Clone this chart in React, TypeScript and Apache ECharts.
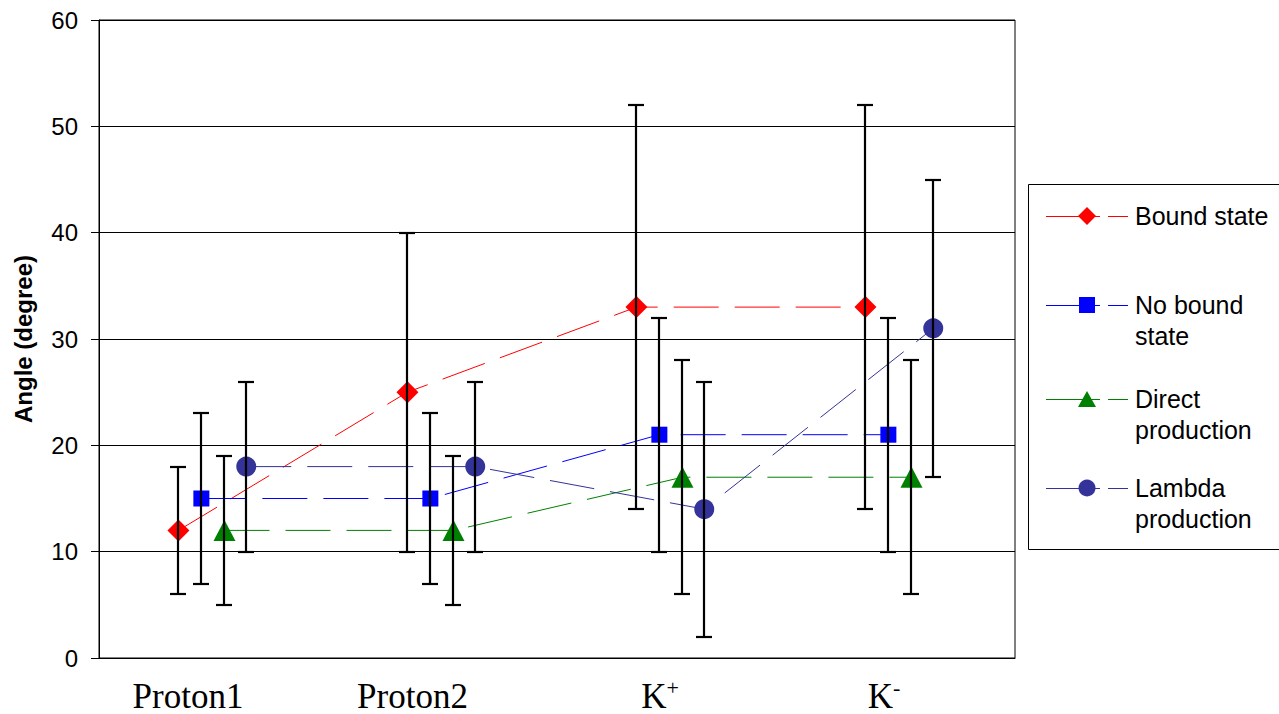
import React, { useEffect, useRef } from "react";
import * as echarts from "echarts";

const categories = ["Proton1", "Proton2", "K+", "K-"];
const seriesNames = ["Bound state", "No bound state", "Direct production", "Lambda production"];
const legendLabels = ["Bound state", "No bound\nstate", "Direct\nproduction", "Lambda\nproduction"];

const boundState = [12, 25, 33, 33];
const boundLow = [6, 10, 14, 14];
const boundHigh = [18, 40, 52, 52];

const noBoundState = [15, 15, 21, 21];
const noBoundLow = [7, 7, 10, 10];
const noBoundHigh = [23, 23, 32, 32];

const directProduction = [12, 12, 17, 17];
const directLow = [5, 5, 6, 6];
const directHigh = [19, 19, 28, 28];

const lambdaProduction = [18, 18, 14, 31];
const lambdaLow = [10, 10, 2, 17];
const lambdaHigh = [26, 26, 26, 45];

const yMin = 0;
const yMax = 60;
const yInterval = 10;

export default function App() {
  const ref = useRef<HTMLDivElement>(null);

  useEffect(() => {
    if (!ref.current) return;
    const chart = echarts.init(ref.current, null, { renderer: "svg" });

    const values = [boundState, noBoundState, directProduction, lambdaProduction];
    const lows = [boundLow, noBoundLow, directLow, lambdaLow];
    const highs = [boundHigh, noBoundHigh, directHigh, lambdaHigh];
    const colors = ["#FF0000", "#0000FF", "#008000", "#333399"];
    const symbols = ["diamond", "rect", "triangle", "circle"];
    const symbolSizes: any[] = [22, 16, [22, 21], 20];
    const offsets = [-0.153, -0.053, 0.048, 0.143];

    const lineSeries = values.map((vals, s) => ({
      type: "line",
      name: seriesNames[s],
      xAxisIndex: 1,
      data: vals.map((v, i) => [i + 0.5 + offsets[s], v]),
      symbol: symbols[s],
      symbolSize: symbolSizes[s],
      itemStyle: { color: colors[s] },
      lineStyle: { color: colors[s], width: 1, type: [45, 16] },
      z: 2,
    }));

    const errorSeries = values.map((vals, s) => ({
      type: "custom",
      xAxisIndex: 1,
      z: 5,
      encode: { x: 0, y: [1, 2] },
      data: vals.map((v, i) => [i + 0.5 + offsets[s], lows[s][i], highs[s][i]]),
      renderItem: (params: any, api: any) => {
        const x = api.value(0);
        const lo = api.coord([x, api.value(1)]);
        const hi = api.coord([x, api.value(2)]);
        const px = Math.round(lo[0]);
        const yl = Math.round(lo[1]);
        const yh = Math.round(hi[1]);
        const cw = 8;
        const st = { stroke: "#000", lineWidth: 2.2 };
        return {
          type: "group",
          children: [
            { type: "line", shape: { x1: px, y1: yl, x2: px, y2: yh }, style: st },
            { type: "line", shape: { x1: px - cw, y1: yl, x2: px + cw, y2: yl }, style: st },
            { type: "line", shape: { x1: px - cw, y1: yh, x2: px + cw, y2: yh }, style: st },
          ],
        };
      },
    }));

    // legend drawn with graphic elements
    const legX = 1087;
    const legY = [216, 305, 399, 488];
    const legendEls: any[] = [
      {
        type: "rect",
        shape: { x: 1028.5, y: 184.5, width: 262, height: 365 },
        style: { fill: "#fff", stroke: "#000", lineWidth: 1 },
        z: 10,
      },
    ];
    legY.forEach((y, s) => {
      const c = colors[s];
      legendEls.push({
        type: "line",
        shape: { x1: 1046, y1: y + 0.5, x2: 1100, y2: y + 0.5 },
        style: { stroke: c, lineWidth: 1 },
        z: 11,
      });
      legendEls.push({
        type: "line",
        shape: { x1: 1108, y1: y + 0.5, x2: 1128, y2: y + 0.5 },
        style: { stroke: c, lineWidth: 1 },
        z: 11,
      });
      let sym: any;
      if (s === 0) {
        sym = { type: "polygon", shape: { points: [[legX, y - 9], [legX + 9, y], [legX, y + 9], [legX - 9, y]] } };
      } else if (s === 1) {
        sym = { type: "rect", shape: { x: legX - 8, y: y - 8, width: 16, height: 16 } };
      } else if (s === 2) {
        sym = { type: "polygon", shape: { points: [[legX, y - 8], [legX + 9, y + 8], [legX - 9, y + 8]] } };
      } else {
        sym = { type: "circle", shape: { cx: legX, cy: y, r: 8.5 } };
      }
      sym.style = { fill: c };
      sym.z = 12;
      legendEls.push(sym);
      legendEls.push({
        type: "text",
        x: 1135,
        y: y - 15.5,
        z: 12,
        style: {
          text: legendLabels[s],
          fill: "#000",
          font: "25px Arial, 'Liberation Sans', sans-serif",
          lineHeight: 31,
          verticalAlign: "top",
          align: "left",
        },
      });
    });

    const labelGapStyles = ["g0", "g1", "g2", "g3"];

    chart.setOption({
      animation: false,
      backgroundColor: "#fff",
      grid: {
        left: 99,
        top: 20,
        right: 1279 - 1015,
        bottom: 714 - 658,
        show: true,
        borderColor: "#000",
        borderWidth: 1,
      },
      xAxis: [
        {
          type: "category",
          data: categories,
          boundaryGap: true,
          axisLine: { show: true, lineStyle: { color: "#000", width: 1 } },
          axisTick: { show: false },
          splitLine: { show: false },
          axisLabel: {
            margin: 18,
            interval: 0,
            formatter: (v: string, i: number) => {
              const g = labelGapStyles[i];
              if (v === "K+") return `{m|K}{sup|+}{${g}| }`;
              if (v === "K-") return `{m|K}{sup|-}{${g}| }`;
              return `{m|${v}}{${g}| }`;
            },
            rich: {
              m: { fontFamily: "'Times New Roman', 'Liberation Serif', serif", fontSize: 35, color: "#000", lineHeight: 40 },
              sup: { fontFamily: "'Times New Roman', 'Liberation Serif', serif", fontSize: 22, color: "#000", lineHeight: 40, verticalAlign: "top" },
              g0: { width: 51, fontSize: 10 },
              g1: { width: 60, fontSize: 10 },
              g2: { width: 23, fontSize: 10 },
              g3: { width: 33, fontSize: 10 },
            },
          },
        },
        {
          type: "value",
          min: 0,
          max: categories.length,
          show: false,
          splitLine: { show: false },
        },
      ],
      yAxis: {
        type: "value",
        min: yMin,
        max: yMax,
        interval: yInterval,
        name: "Angle (degree)",
        nameLocation: "middle",
        nameRotate: 90,
        nameGap: 64,
        nameTextStyle: {
          fontFamily: "Arial, 'Liberation Sans', sans-serif",
          fontWeight: "bold",
          fontSize: 24,
          color: "#000",
        },
        axisLine: { show: true, lineStyle: { color: "#000", width: 1 } },
        axisTick: { show: true, length: 8, inside: false, lineStyle: { color: "#000" } },
        splitLine: { show: true, lineStyle: { color: "#000", width: 1 } },
        axisLabel: {
          margin: 21,
          fontFamily: "Arial, 'Liberation Sans', sans-serif",
          fontSize: 24,
          color: "#000",
        },
      },
      series: [...lineSeries, ...errorSeries],
      graphic: legendEls,
    });

    return () => chart.dispose();
  }, []);

  return (
    <div
      ref={ref}
      style={{ position: "absolute", left: 0, top: 0, width: 1279, height: 714, background: "#fff" }}
    />
  );
}
